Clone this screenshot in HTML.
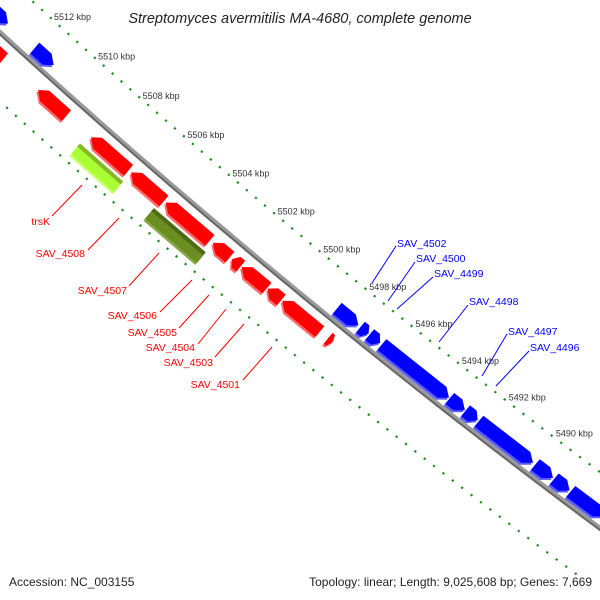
<!DOCTYPE html>
<html><head><meta charset="utf-8"><style>
html,body{margin:0;padding:0;background:#fff;}
svg{display:block;font-family:"Liberation Sans",sans-serif;}
</style></head><body>
<svg id="chart" width="600" height="600" viewBox="0 0 600 600">
<text x="300" y="23" text-anchor="middle" font-size="14.5" font-style="italic" fill="#222">Streptomyces avermitilis MA-4680, complete genome</text>
<g id="ticks"></g>
<g id="backbone"></g>
<g id="genes"></g>
<g id="labels"></g>
<text x="9" y="586" font-size="12" fill="#222">Accession: NC_003155</text>
<text x="592" y="586" text-anchor="end" font-size="12" fill="#222">Topology: linear; Length: 9,025,608 bp; Genes: 7,669</text>
</svg>
<script>
// data (kbp)
const kbpTickLabels = [5512,5510,5508,5506,5504,5502,5500,5498,5496,5494,5492,5490];
const redGeneStarts = [5515.0,5511.38,5508.99,5507.19,5505.64,5503.55,5502.70,5502.28,5501.14,5500.50,5498.30];
const redGeneEnds   = [5512.95,5510.09,5507.30,5505.72,5503.68,5502.80,5502.32,5501.17,5500.54,5498.86,5498.50];
const blueGeneStarts = [5515.0,5512.37,5498.91,5497.90,5497.50,5496.97,5494.05,5493.37,5492.80,5490.40,5489.60,5488.90];
const blueGeneEnds   = [5513.59,5511.51,5497.99,5497.55,5497.05,5494.08,5493.40,5492.85,5490.50,5489.65,5488.95,5487.50];
const otherGeneStarts = [5509.14,5505.83];
const otherGeneEnds   = [5507.20,5503.53];
const otherGeneNames = ['trsK','SAV_4506'];
const redLabels = ['trsK','SAV_4508','SAV_4507','SAV_4506','SAV_4505','SAV_4504','SAV_4503','SAV_4501'];
const blueLabels = ['SAV_4502','SAV_4500','SAV_4499','SAV_4498','SAV_4497','SAV_4496'];

const NS='http://www.w3.org/2000/svg';
const ux=0.7696, uy=0.6385, nx=-0.6385, ny=0.7696;
function pt(k,d){
  const s=(5512-k)*29.64, t=(5512-k)/22, b=28*t*(1-t);
  return [64+ux*s+nx*(d+b), 30+uy*s+ny*(d+b)];
}
function mk(tag,attrs,parent){const e=document.createElementNS(NS,tag);for(const a in attrs)e.setAttribute(a,attrs[a]);parent.appendChild(e);return e;}

// ticks
const tg=document.getElementById('ticks');
[0,96].forEach(function(d){
  for(let i=0;i<=75;i++){
    const k=5517-i*0.4;
    const major=Math.abs(k-Math.round(k))<0.01 && Math.round(k)%2===0;
    const h=major?3.2:1.1;
    const a=pt(k,d-h), b=pt(k,d+h);
    const l=mk('line',{x1:a[0],y1:a[1],x2:b[0],y2:b[1],stroke:'#1e8c1e','stroke-width':2.2},tg);
    
    
  }
});
kbpTickLabels.forEach(function(k){
  const p=pt(k,0);
  const t=mk('text',{x:p[0]-10,y:p[1]-10,'font-size':9,fill:'#333'},tg);
  t.textContent=k+' kbp';
  
  
});

// backbone
const bg=document.getElementById('backbone');
let dstr='',dstr2='';
for(let k=5516;k>=5486;k-=0.5){const p=pt(k,44),q=pt(k,46);dstr+=(dstr?'L':'M')+p[0].toFixed(1)+','+p[1].toFixed(1);dstr2+=(dstr2?'L':'M')+q[0].toFixed(1)+','+q[1].toFixed(1);}
const bl2=mk('path',{d:dstr2,stroke:'#666',fill:'none','stroke-width':3},bg);


const bl=mk('path',{d:dstr,stroke:'#9a9a9a',fill:'none','stroke-width':3},bg);



// genes
const gg=document.getElementById('genes');
function shape(kFrom,kTo,d,w,arrow,dir){
  // kFrom > kTo. dir: +1 tip at kTo (blue), -1 tip at kFrom... red tip at high-kbp end (upper-left)
  const len=kFrom-kTo, head=arrow?Math.min(0.3,len*0.45):0;
  let pts;
  if(dir>0){
    pts=[pt(kFrom,d-w),pt(kTo+head,d-w),pt(kTo,d),pt(kTo+head,d+w),pt(kFrom,d+w)];
  } else {
    pts=[pt(kTo,d-w),pt(kFrom-head,d-w),pt(kFrom,d),pt(kFrom-head,d+w),pt(kTo,d+w)];
  }
  return pts.map(p=>p[0].toFixed(1)+','+p[1].toFixed(1)).join(' ');
}
function gene(kf,kt,d,arrow,dir,main,light,dark,name){
  const g=mk('g',{},gg);
  
  
  const sh=mk('polygon',{points:shape(kf,kt,d+2.5,7,arrow,dir),fill:light},g);
  
  
  const m=mk('polygon',{points:shape(kf,kt,d,7,arrow,dir),fill:main},g);
  
  
  if(dark){
    const s2=mk('polygon',{points:shape(kf,kt,d-5,2,false,dir),fill:dark},g);
    
    
  }
}
for(let i=0;i<redGeneStarts.length;i++) gene(redGeneStarts[i],redGeneEnds[i],62,true,-1,'#ff0000','#ff6a6a',null,'red-gene');
for(let i=0;i<blueGeneStarts.length;i++) gene(blueGeneStarts[i],blueGeneEnds[i],33,true,1,'#0000ff','#5c5cff',null,'blue-gene');
gene(otherGeneStarts[0],otherGeneEnds[0],81,false,1,'#aaff33','#c8ff70','#86b82a','gene-trsK');
gene(otherGeneStarts[1],otherGeneEnds[1],81,false,1,'#6b8e23','#8aa84a','#4f6b18','gene-SAV_4506');

// labels (annotation placement)
const lg=document.getElementById('labels');
const redPos=[[50,225,52,216,82,185],[85,257,88,250,119,218],[127,294,129,286,159,253],[157,319,160,312,192,280],[177,336,179,328,209,295],[195,351,198,344,226,309],[213,366,215,357,244,324],[240,388,243,380,272,347]];
redLabels.forEach(function(n,i){
  const p=redPos[i];
  const l=mk('line',{x1:p[2],y1:p[3],x2:p[4],y2:p[5],stroke:'#ff0000','stroke-width':1},lg);
  
  
  const t=mk('text',{x:p[0],y:p[1],'text-anchor':'end','font-size':10.5,fill:'#ff0000'},lg);
  t.textContent=n;
  
  
});
const bluePos=[[397,247,372,283,396,246],[416,262,388,301,415,262],[434,277,397,309,433,277],[469,305,439,342,468,305],[508,335,482,376,507,334],[530,351,496,386,529,351]];
blueLabels.forEach(function(n,i){
  const p=bluePos[i];
  const l=mk('line',{x1:p[2],y1:p[3],x2:p[4],y2:p[5],stroke:'#0000ff','stroke-width':1},lg);
  
  
  const t=mk('text',{x:p[0],y:p[1],'font-size':10.5,fill:'#0000ff'},lg);
  t.textContent=n;
  
  
});
</script>
</body></html>
